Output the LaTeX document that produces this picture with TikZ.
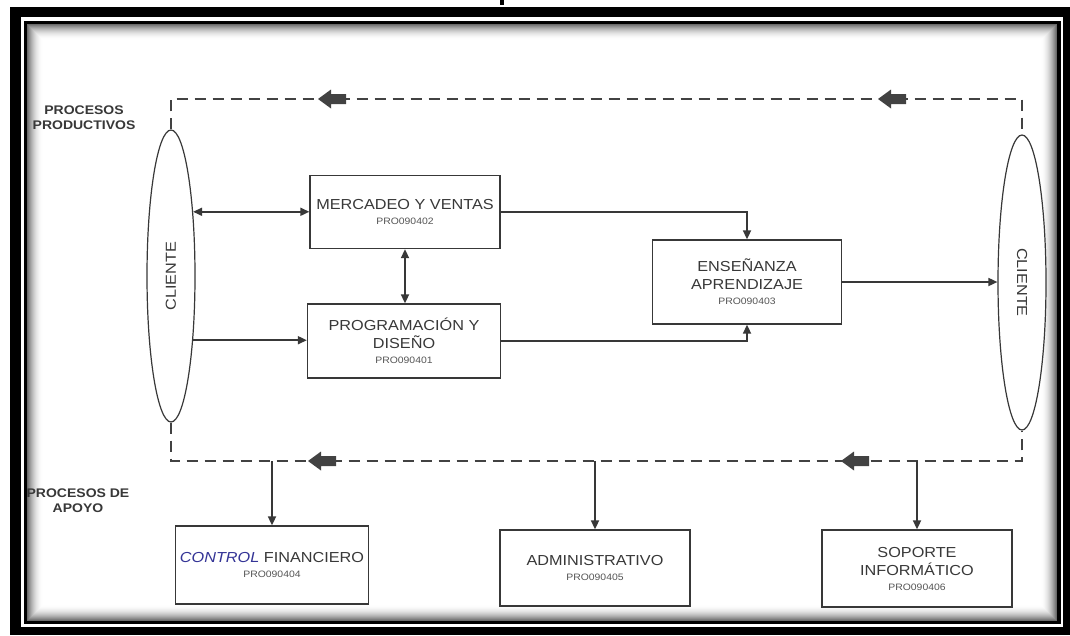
\documentclass[tikz,border=0pt]{standalone}
\usepackage{fontspec}
\setmainfont{Liberation Sans}[FakeStretch=1.12]
\usetikzlibrary{shapes.geometric,arrows.meta}

\definecolor{ink}{HTML}{383838}
\definecolor{codegray}{HTML}{555555}
\definecolor{dashgray}{HTML}{424242}
\definecolor{ctrlblue}{RGB}{52,52,150}
\newcommand\codefont{\fontsize{9.3}{11}\selectfont\color{codegray}}

\begin{document}
\begin{tikzpicture}[x=1pt,y=-1pt,
  box/.style={draw=ink, line width=1.3pt, fill=white, inner sep=0pt, align=center,
    text=ink, font=\fontsize{14.5}{18}\selectfont},
  client/.style={ellipse, draw=ink, line width=1.2pt, fill=white,
    minimum width=48pt, inner sep=0pt},
  tip/.style={-{Triangle[length=9pt,width=8pt]}},
  flow/.style={draw=ink, line width=1.7pt, tip},
  flowboth/.style={draw=ink, line width=1.7pt,
    {Triangle[length=9pt,width=8pt]}-{Triangle[length=9pt,width=8pt]}},
  loopline/.style={draw=dashgray, line width=2.7pt, dash pattern=on 11pt off 7pt},
  grouplabel/.style={align=center, text=ink, font=\bfseries\fontsize{12.5}{15}\selectfont},
  cliente/.style={text=ink, font=\fontsize{14.5}{17}\selectfont},
  blockarrow/.pic={
    \fill[dashgray] (0,0) -- (13,-9.5) -- (13,-5) -- (28,-5) -- (28,5)
      -- (13,5) -- (13,9.5) -- cycle;
  }
]
\useasboundingbox (0,0) rectangle (1070,635);

% page and double frame
\fill[white] (0,0) rectangle (1070,635);
\fill[black] (500,0) rectangle (504,5);
\fill[black] (10,7) rectangle (1070,635);
\fill[white] (21,17) rectangle (1063,627);
\fill[black] (24,21) rectangle (1061,624);
% soft shading along the inner edge
\foreach \i in {0,...,16}{
  \pgfmathsetmacro\shd{58*(1-\i/16)^2}
  \fill[black!\shd] (27+\i,24+\i) rectangle (1057-\i,621-\i);
}

% clients
\node[client, minimum height=292pt] (cliL) at (171,276) {};
\node[cliente, rotate=90] (cliLtxt) at (cliL) {CLIENTE};
\node[client, minimum height=295pt] (cliR) at (1022,282.5) {};
\node[cliente, rotate=-90] (cliRtxt) at (cliR) {CLIENTE};

% productive processes
\node[box, minimum width=190pt, minimum height=73pt] (merc) at (405,212)
  {MERCADEO Y VENTAS\\[-3pt]{\codefont PRO090402}};
\node[box, minimum width=193pt, minimum height=74pt] (prog) at (404,341)
  {PROGRAMACIÓN Y\\DISEÑO\\[-3pt]{\codefont PRO090401}};
\node[box, minimum width=189pt, minimum height=84pt] (ense) at (747,282)
  {ENSEÑANZA\\APRENDIZAJE\\[-3pt]{\codefont PRO090403}};

% support processes
\node[box, minimum width=193pt, minimum height=78pt] (ctrl) at (272,565)
  {{\color{ctrlblue}\itshape CONTROL} FINANCIERO\\[-3pt]{\codefont PRO090404}};
\node[box, minimum width=190pt, minimum height=76pt] (admin) at (595,568)
  {ADMINISTRATIVO\\[-3pt]{\codefont PRO090405}};
\node[box, minimum width=190pt, minimum height=77pt] (sop) at (917,568.5)
  {SOPORTE\\INFORMÁTICO\\[-3pt]{\codefont PRO090406}};

% group labels
\node[grouplabel] (lblprod) at (84,117.5) {PROCESOS\\PRODUCTIVOS};
\node[grouplabel] (lblapoyo) at (78,501) {PROCESOS DE\\APOYO};

% dashed feedback loops
\coordinate (tl) at (171,99);
\coordinate (tr) at (1022,99);
\coordinate (bl) at (171,461);
\coordinate (br) at (1022,461);
\draw[loopline] (cliL.north) -- (tl) -- (tr) -- (cliR.north);
\draw[loopline] (cliL.south) -- (bl) -- (br) -- (cliR.south);
\pic at (318,99) {blockarrow};
\pic at (878,99) {blockarrow};
\pic at (308,461) {blockarrow};
\pic at (841,461) {blockarrow};

% flows between processes
\draw[flowboth] (cliL.71.3) -- (cliL.71.3 -| merc.west);
\draw[flow] (cliL.-71.3) -- (cliL.-71.3 -| prog.west);
\draw[flowboth] (merc.south) -- (merc.south |- prog.north);
\draw[flow] (merc.east) -| (ense.north);
\draw[flow] (prog.east) -| (ense.south);
\draw[flow] (ense.east) -- (ense.east -| cliR.west);

% support branches
\draw[flow] (ctrl.north |- bl) -- (ctrl.north);
\draw[flow] (admin.north |- bl) -- (admin.north);
\draw[flow] (sop.north |- bl) -- (sop.north);
\end{tikzpicture}
\end{document}
